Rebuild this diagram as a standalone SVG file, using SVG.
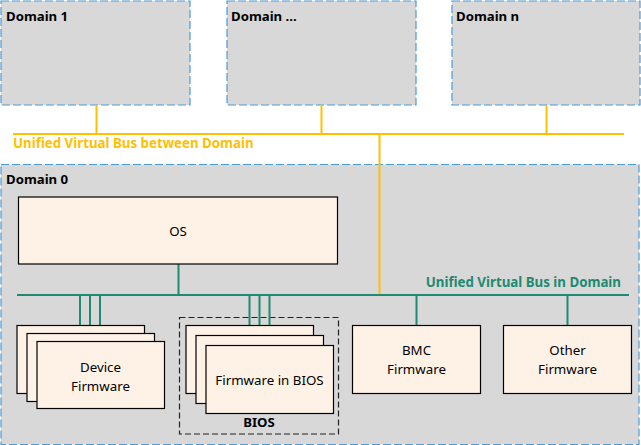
<svg xmlns="http://www.w3.org/2000/svg" width="641" height="445" viewBox="0 0 641 445">
<defs>
<style>
.dom{fill:#D8D8D8;stroke:#4C9AD6;stroke-width:1.2;stroke-dasharray:8 3}
.node{fill:#FEF2E6;stroke:#000;stroke-width:1.2}
.dl{font-family:"Noto Sans","Open Sans",sans-serif;font-weight:bold;font-size:13.2px;fill:#000}
.t{font-family:"Noto Sans","Open Sans",sans-serif;font-size:13.3px;fill:#000;text-anchor:middle}
.yb{stroke:#FFC000;stroke-width:2;fill:none}
.gb{stroke:#1E8A72;stroke-width:2;fill:none}
</style>
</defs>
<rect width="641" height="445" fill="#fff"/>
<g id="domain1"><rect class="dom" x="1" y="1" width="189" height="104"/><text class="dl" x="6" y="20.5">Domain 1</text></g>
<g id="domain-dots"><rect class="dom" x="227" y="1" width="189" height="104"/><text class="dl" x="231" y="20.5">Domain ...</text></g>
<g id="domain-n"><rect class="dom" x="452" y="1" width="188" height="104"/><text class="dl" x="456" y="20.5">Domain n</text></g>
<g id="domain0"><rect class="dom" x="1" y="164.5" width="638" height="280"/><text class="dl" x="6" y="183.5">Domain 0</text></g>
<g id="bios-group"><rect x="179.5" y="317.5" width="159" height="116.5" fill="none" stroke="#222" stroke-width="1.2" stroke-dasharray="6 3"/><text class="dl" x="259" y="426.5" text-anchor="middle">BIOS</text></g>
<g id="connectors">
<path class="yb" d="M13 134H624M96.5 105V134M321.5 105V134M546.5 105V134M379.5 134V296"/>
<path class="gb" d="M17 295H629M178.5 264V295M80 295V325M90 295V333M100 295V341M249.5 295V325M259.5 295V335M269.5 295V345M416.5 295V325M567.5 295V325"/>
</g>
<text x="13" y="148" font-family="Noto Sans, Open Sans, sans-serif" font-weight="bold" font-size="13.3" fill="#FFC000">Unified Virtual Bus between Domain</text>
<text x="621" y="287" text-anchor="end" font-family="Noto Sans, Open Sans, sans-serif" font-weight="bold" font-size="13.3" fill="#1E8A72">Unified Virtual Bus in Domain</text>
<g id="os"><rect class="node" x="18.5" y="197" width="319" height="67"/><text class="t" x="178" y="236">OS</text></g>
<g id="device-firmware">
<rect class="node" x="17" y="325.5" width="127.5" height="68"/>
<rect class="node" x="27" y="333.5" width="127.5" height="68"/>
<rect class="node" x="37" y="341.5" width="127.5" height="67"/>
<text class="t" x="100.5" y="371.5">Device</text><text class="t" x="100.5" y="390.5">Firmware</text>
</g>
<g id="firmware-in-bios">
<rect class="node" x="186" y="325.5" width="127.5" height="68"/>
<rect class="node" x="196" y="335.5" width="127.5" height="68"/>
<rect class="node" x="206" y="345.5" width="127.5" height="68"/>
<text class="t" x="269.5" y="384.5">Firmware in BIOS</text>
</g>
<g id="bmc-firmware"><rect class="node" x="352.5" y="325.5" width="128" height="68"/><text class="t" x="416.5" y="355">BMC</text><text class="t" x="416.5" y="374">Firmware</text></g>
<g id="other-firmware"><rect class="node" x="503.5" y="325.5" width="128" height="68"/><text class="t" x="567.5" y="355">Other</text><text class="t" x="567.5" y="374">Firmware</text></g>
</svg>
